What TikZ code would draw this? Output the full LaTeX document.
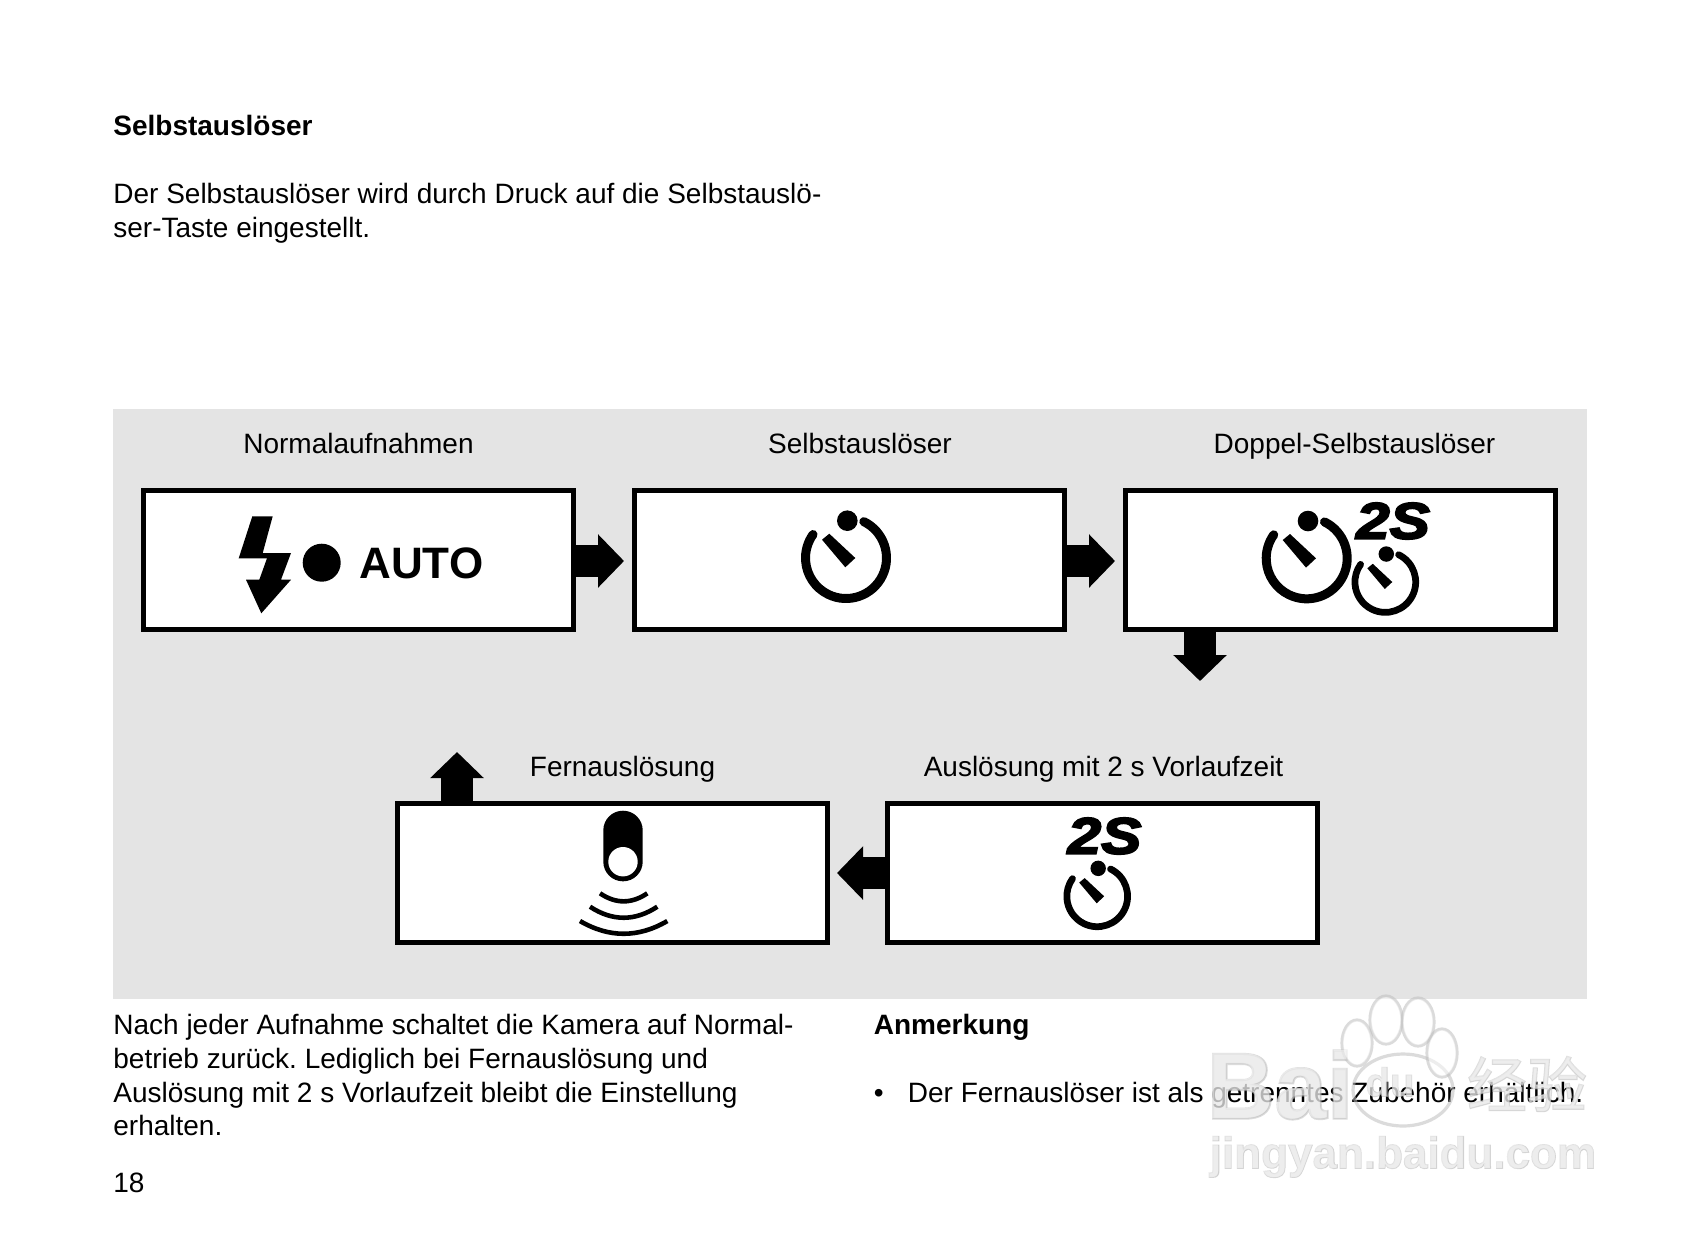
\documentclass[tikz,border=0pt]{standalone}
\usepackage{fontspec}
\usetikzlibrary{arrows.meta,calc}
\setmainfont{Liberation Sans}
\newfontfamily\twosfont{Liberation Sans}[FakeBold=4,FakeStretch=1.18]
\newfontfamily\wmfont{Liberation Sans}[FakeBold=2.2]
\newfontfamily\wmcjk{Noto Sans CJK SC}[FakeBold=2.2]
\newfontfamily\wmcjkthin{Noto Sans CJK SC}
\definecolor{panelgrey}{HTML}{E4E4E4}
\definecolor{wmgrey}{HTML}{BEBEBE}
\frenchspacing
\newcommand{\timerdial}[3]{%
  \begin{scope}[shift={(#1,#2)},x=#3*0.5pt,y=#3*0.5pt]
    \draw[line width=#3*4.5pt,line cap=round] (64:40.5) arc[start angle=64,end angle=-215.5,radius=40.5];
    \fill (1.3,37.3) circle[radius=10.3];
    \fill (-16.7,24.3) -- (-24,18.3) -- (-0.7,-9.3) -- (9.3,0) -- cycle;
  \end{scope}}
\tikzset{
  modebox/.style={draw=black,fill=white,line width=2.5pt,minimum width=215pt,minimum height=69.5pt,inner sep=0pt},
  blockarrow/.style={line width=16pt,draw=black,-{Triangle[length=13pt,width=26pt]}},
  bodyline/.style={anchor=base west,inner sep=0pt,font=\fontsize{14pt}{17pt}\selectfont},
  headline/.style={anchor=base west,inner sep=0pt,font=\fontsize{14pt}{17pt}\selectfont\bfseries},
  boxlabel/.style={anchor=base,inner sep=0pt,font=\fontsize{14pt}{17pt}\selectfont},
  twosmark/.style={inner sep=0pt,font=\fontsize{25.5pt}{26pt}\selectfont\twosfont\bfseries\itshape},
  wave/.style={line width=2.3pt}
}
\begin{document}
\begin{tikzpicture}[x=0.5pt,y=-0.5pt]
\useasboundingbox (0,0) rectangle (1700,1248);
\fill[white] (0,0) rectangle (1700,1248);
\fill[panelgrey] (113,409) rectangle (1587,998.5);
% text
\node[headline] (title) at (113,135.5) {Selbstauslöser};
\node[bodyline] (intro1) at (113,203) {Der Selbstauslöser wird durch Druck auf die Selbstauslö-};
\node[bodyline] (intro2) at (113,237) {ser-Taste eingestellt.};
\node[boxlabel] (lab1) at (358.5,453) {Normalaufnahmen};
\node[boxlabel] (lab2) at (860,453) {Selbstauslöser};
\node[boxlabel] (lab3) at (1354.5,453) {Doppel-Selbstauslöser};
\node[boxlabel] (lab4) at (622.5,776) {Fernauslösung};
\node[boxlabel] (lab5) at (1103.5,776) {Auslösung mit 2 s Vorlaufzeit};
\node[bodyline] (nach1) at (113,1034) {Nach jeder Aufnahme schaltet die Kamera auf Normal-};
\node[bodyline] (nach2) at (113,1068) {betrieb zurück. Lediglich bei Fernauslösung und};
\node[bodyline] (nach3) at (113,1102) {Auslösung mit 2 s Vorlaufzeit bleibt die Einstellung};
\node[bodyline] (nach4) at (113,1135) {erhalten.};
\node[headline] (anm) at (873.5,1034) {Anmerkung};
\node[bodyline] (bullet) at (873.5,1102) {•};
\node[bodyline] (fern) at (907.5,1102) {Der Fernauslöser ist als getrenntes Zubehör erhältlich.};
\node[bodyline] (page) at (113,1192) {18};
% boxes
\node[modebox] (n1) at (358.5,560) {};
\node[modebox] (n2) at (849.5,560) {};
\node[modebox] (n3) at (1340.5,560) {};
\node[modebox] (n4) at (612.5,873) {};
\node[modebox] (n5) at (1102.5,873) {};
% connectors
\coordinate (d3) at (1200,681);
\coordinate (u4) at (457,752);
\draw[blockarrow,shorten >=4pt] ([yshift=-0.5pt]n1.east) -- ([yshift=-0.5pt]n2.west);
\draw[blockarrow,shorten >=4pt] ([yshift=-0.5pt]n2.east) -- ([yshift=-0.5pt]n3.west);
\draw[blockarrow] (d3 |- n3.south) -- (d3);
\draw[blockarrow,shorten >=3.5pt] (n5.west) -- (n4.east);
\draw[blockarrow] (u4 |- n4.north) -- (u4);
% flash + auto
\fill (252.3,516.3) -- (272.7,516.3) -- (262.7,553) -- (291,553) -- (281,579.7) -- (291,579.7) -- (261.3,613.3) -- (246,579.7) -- (259.3,579.7) -- (267,558.3) -- (238.7,558.3) -- cycle;
\fill (321.7,562.7) circle[radius=19];
\node[anchor=base west,inner sep=0pt,font=\fontsize{22pt}{22pt}\selectfont\bfseries] (auto) at (359,578) {AUTO};
% timers
\timerdial{846}{558}{1}
\timerdial{1306.7}{558.3}{1}
\timerdial{1385.3}{582}{0.75}
\timerdial{1097.2}{896.3}{0.75}
\node[twosmark] (ts1) at (1393,521) {2S};
\node[twosmark] (ts2) at (1104.5,836) {2S};
% remote
\fill[rounded corners=9.8pt] (603.3,810.7) rectangle (642.7,881.3);
\fill[white] (623,861.7) circle[radius=14.7];
\draw[wave] (600,893.3) .. controls (615.8,904) and (631.5,904) .. (647.3,893.3);
\draw[wave] (590,906.7) .. controls (612.4,921.4) and (634.9,921.4) .. (657.3,906.7);
\draw[wave] (580,921) .. controls (609.1,938) and (638.2,938) .. (667.3,921);
% watermark
\begin{scope}[opacity=0.55]
\draw[wmgrey,line width=1.6pt] (1357,1043) ellipse[x radius=15,y radius=23];
\draw[wmgrey,line width=1.6pt] (1386,1020) ellipse[x radius=16,y radius=24];
\draw[wmgrey,line width=1.6pt] (1418,1022) ellipse[x radius=16,y radius=24];
\draw[wmgrey,line width=1.6pt] (1442,1053) ellipse[x radius=15,y radius=24];
\draw[wmgrey,line width=1.6pt] (1403,1090) ellipse[x radius=50,y radius=36];
\node[inner sep=0pt,text=wmgrey,font=\fontsize{47pt}{47pt}\selectfont\wmfont\bfseries] (wm1a) at (1280,1085) {Bai};
\node[inner sep=0pt,text=wmgrey,font=\fontsize{20pt}{20pt}\selectfont\wmfont\bfseries] (wm2a) at (1390,1082) {du};
\node[inner sep=0pt,text=wmgrey,font=\fontsize{22pt}{22pt}\selectfont\wmfont\bfseries] (wm4a) at (1403,1157) {jingyan.baidu.com};
\node[inner sep=0pt,text=wmgrey,font=\fontsize{30pt}{30pt}\selectfont\wmcjk] (wm3a) at (1527,1084) {经验};
\end{scope}
\begin{scope}[opacity=0.5]
\fill[white] (1357,1043) ellipse[x radius=14,y radius=22];
\fill[white] (1386,1020) ellipse[x radius=15,y radius=23];
\fill[white] (1418,1022) ellipse[x radius=15,y radius=23];
\fill[white] (1442,1053) ellipse[x radius=14,y radius=23];
\node[inner sep=0pt,text=white,font=\fontsize{47pt}{47pt}\selectfont\bfseries] (wm1b) at (1280,1085) {Bai};
\node[inner sep=0pt,text=white,font=\fontsize{20pt}{20pt}\selectfont\bfseries] (wm2b) at (1390,1082) {du};
\node[inner sep=0pt,text=white,font=\fontsize{22pt}{22pt}\selectfont\bfseries] (wm4b) at (1403,1157) {jingyan.baidu.com};
\node[inner sep=0pt,text=white,font=\fontsize{30pt}{30pt}\selectfont\wmcjkthin] (wm3b) at (1527,1084) {经验};
\end{scope}
\end{tikzpicture}
\end{document}
